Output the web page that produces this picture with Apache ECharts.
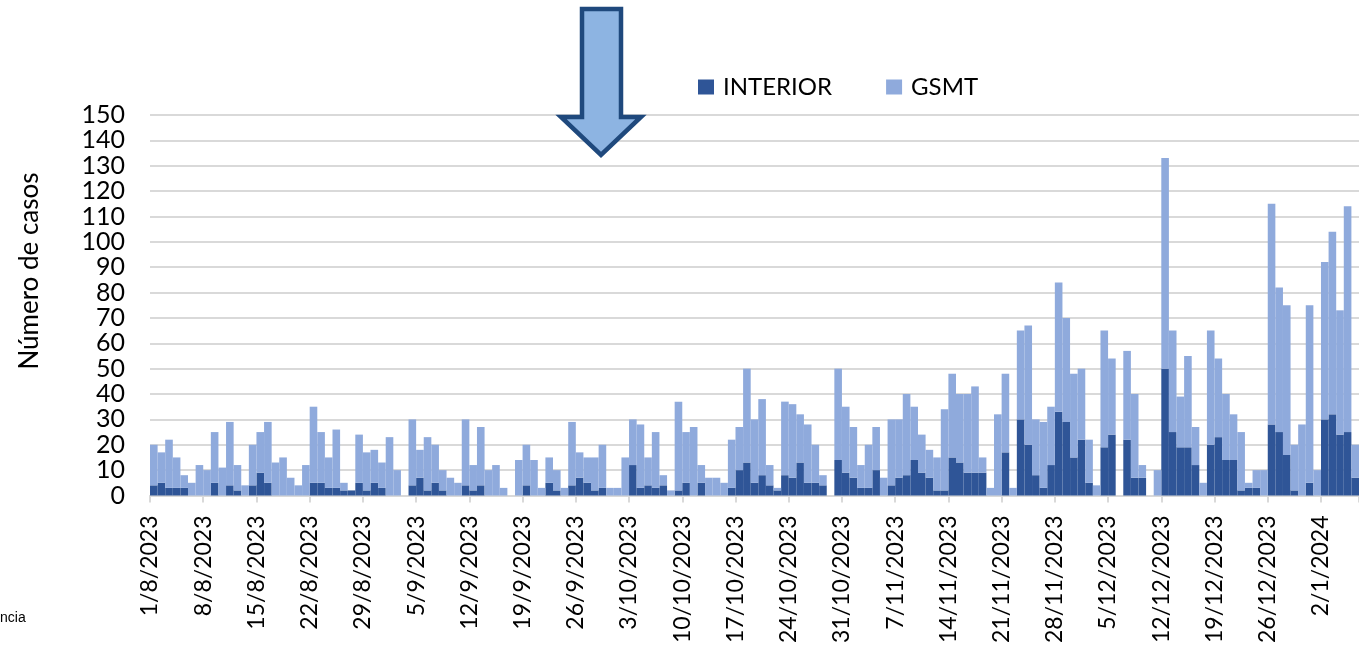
<!DOCTYPE html>
<html>
<head>
<meta charset="utf-8">
<script src="https://cdn.jsdelivr.net/npm/echarts@6/dist/echarts.min.js"></script>
<style>
  html, body { margin: 0; padding: 0; background: #fff; }
  #chart { width: 1359px; height: 646px; }
</style>
</head>
<body>
<div id="chart"></div>
<script>
// casos diarios desde 1/8/2023 (159 días)
const totales = [
  20, 17, 22, 15, 8, 5, 12, 10, 25, 11, 29, 12, 4, 20, 25, 29, 13, 15, 7, 4,
  12, 35, 25, 15, 26, 5, 2, 24, 17, 18, 13, 23, 10, 0, 30, 18, 23, 20, 10, 7,
  5, 30, 12, 27, 10, 12, 3, 0, 14, 20, 14, 3, 15, 10, 3, 29, 17, 15, 15, 20,
  3, 3, 15, 30, 28, 15, 25, 8, 2, 37, 25, 27, 12, 7, 7, 5, 22, 27, 50, 30,
  38, 12, 3, 37, 36, 32, 28, 20, 8, 0, 50, 35, 27, 12, 20, 27, 7, 30, 30, 40,
  35, 24, 18, 15, 34, 48, 40, 40, 43, 15, 3, 32, 48, 3, 65, 67, 30, 29, 35, 84,
  70, 48, 50, 22, 4, 65, 54, 0, 57, 40, 12, 0, 10, 133, 65, 39, 55, 27, 5, 65,
  54, 40, 32, 25, 5, 10, 10, 115, 82, 75, 20, 28, 75, 10, 92, 104, 73, 114, 20
];
const interior = [
  4, 5, 3, 3, 3, 0, 0, 0, 5, 0, 4, 2, 0, 4, 9, 5, 0, 0, 0, 0,
  0, 5, 5, 3, 3, 2, 2, 5, 2, 5, 3, 0, 0, 0, 4, 7, 2, 5, 2, 0,
  0, 4, 2, 4, 0, 0, 0, 0, 0, 4, 0, 0, 5, 2, 0, 4, 7, 5, 2, 3,
  0, 0, 0, 12, 3, 4, 3, 4, 0, 2, 5, 0, 5, 0, 0, 0, 3, 10, 13, 5,
  8, 4, 2, 8, 7, 13, 5, 5, 4, 0, 14, 9, 7, 3, 3, 10, 0, 4, 7, 8,
  14, 9, 7, 2, 2, 15, 13, 9, 9, 9, 0, 0, 17, 0, 30, 20, 8, 3, 12, 33,
  29, 15, 22, 5, 0, 19, 24, 0, 22, 7, 7, 0, 0, 50, 25, 19, 19, 12, 0, 20,
  23, 14, 14, 2, 3, 3, 0, 28, 25, 16, 2, 0, 5, 0, 30, 32, 24, 25, 7
];
const gsmt = totales.map((t, i) => t - interior[i]);

const tickLabels = [
  '1/8/2023', '8/8/2023', '15/8/2023', '22/8/2023', '29/8/2023', '5/9/2023',
  '12/9/2023', '19/9/2023', '26/9/2023', '3/10/2023', '10/10/2023', '17/10/2023',
  '24/10/2023', '31/10/2023', '7/11/2023', '14/11/2023', '21/11/2023', '28/11/2023',
  '5/12/2023', '12/12/2023', '19/12/2023', '26/12/2023', '2/1/2024'
];

const dias = [];
for (let i = 0; i < totales.length; i++) {
  const d = new Date(2023, 7, 1 + i);
  dias.push(d.getDate() + '/' + (d.getMonth() + 1) + '/' + d.getFullYear());
}

const FONT = 'Lato';
const chart = echarts.init(document.getElementById('chart'));

chart.setOption({
  animation: false,
  grid: { left: 150, right: 0, top: 115, bottom: 148 },
  legend: {
    left: 693, top: 70,
    itemWidth: 16, itemHeight: 15, itemGap: 54,
    icon: 'rect',
    textStyle: { fontFamily: FONT, fontSize: 24, color: '#000', padding: [0, 0, 0, 4] },
    data: ['INTERIOR', 'GSMT']
  },
  xAxis: [{
    type: 'category',
    data: dias,
    axisLine: { lineStyle: { color: '#D9D9D9', width: 2 } },
    axisTick: { show: false },
    axisLabel: { show: false }
  }, {
    type: 'value',
    position: 'bottom',
    min: 0,
    max: dias.length,
    interval: 7,
    axisLine: { show: false },
    axisTick: { show: true, length: 7, lineStyle: { color: '#D9D9D9', width: 2 } },
    splitLine: { show: false },
    axisLabel: {
      rotate: 90, margin: 20,
      fontFamily: FONT, fontSize: 23, color: '#000',
      formatter: v => tickLabels[v / 7] || ''
    }
  }],
  yAxis: {
    type: 'value',
    min: 0, max: 150, interval: 10,
    axisLine: { show: false },
    axisTick: { show: false },
    splitLine: { lineStyle: { color: '#D9D9D9', width: 2 } },
    axisLabel: { margin: 25, fontFamily: FONT, fontSize: 25, color: '#000' }
  },
  series: [{
    name: 'INTERIOR', type: 'bar', stack: 'casos',
    xAxisIndex: 0,
    barWidth: '100%', barCategoryGap: 0,
    itemStyle: { color: '#2F5597' },
    data: interior
  }, {
    name: 'GSMT', type: 'bar', stack: 'casos',
    xAxisIndex: 0,
    barWidth: '100%', barCategoryGap: 0,
    itemStyle: { color: '#8FAADC' },
    data: gsmt
  }],
  graphic: [{
    type: 'polygon',
    shape: { points: [[582, 9], [621, 9], [621, 117], [641, 117], [601, 155], [561, 117], [582, 117]] },
    style: { fill: '#8DB4E2', stroke: '#1F497D', lineWidth: 4.5, lineJoin: 'miter' },
    z: 10
  }, {
    type: 'text',
    x: 30, y: 271, rotation: Math.PI / 2,
    style: { text: 'Número de casos', fontFamily: FONT, fontSize: 26, fill: '#000', align: 'center', verticalAlign: 'middle' }
  }, {
    type: 'text',
    left: 0, top: 611,
    style: { text: 'ncia', fontFamily: 'Liberation Sans', fontSize: 14, fill: '#000' }
  }]
});
</script>
</body>
</html>
